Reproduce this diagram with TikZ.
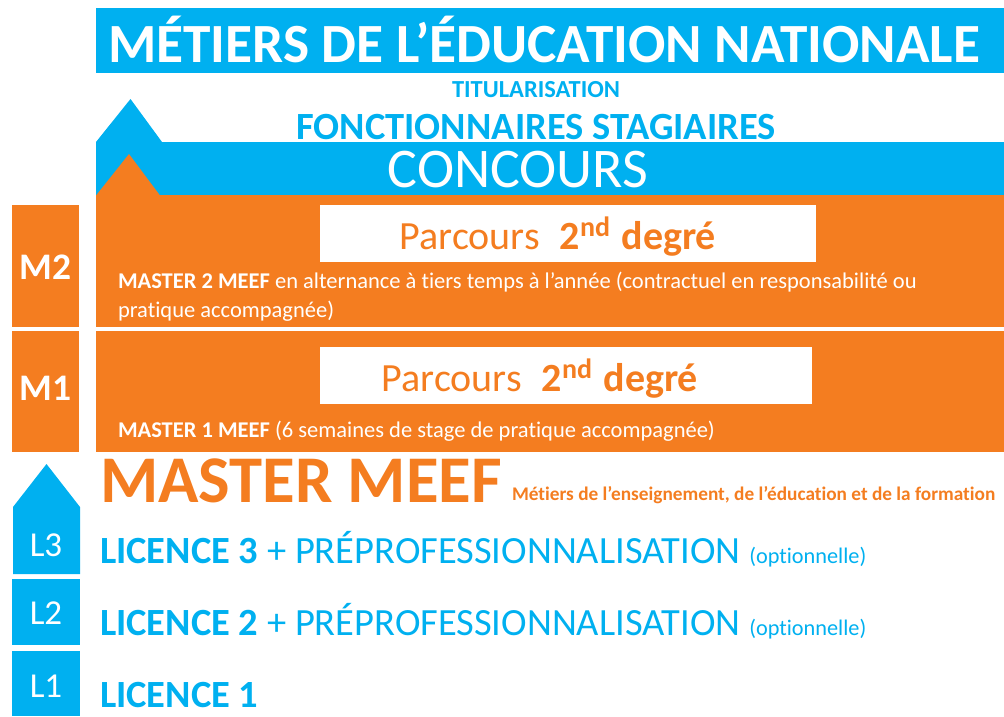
\documentclass[tikz,border=0pt]{standalone}
\usepackage{fontspec}
\setmainfont{Carlito}[Ligatures=NoCommon]
\definecolor{cblue}{RGB}{0,176,240}
\definecolor{corange}{RGB}{244,125,32}
\tikzset{
  lbl/.style={inner sep=0pt,outer sep=0pt},
}
\newcommand{\parcourstext}{Parcours\hspace{20pt}\textbf{2\raisebox{3pt}{\textsuperscript{nd}}\hspace{2pt} degré}}
\begin{document}
\begin{tikzpicture}[x=1pt,y=-1pt]
\useasboundingbox (0,0) rectangle (1004,716);
% top bar
\fill[cblue] (96,8) rectangle (1004,73);
\node[lbl,text=white,font=\fontsize{55.3}{55}\selectfont\bfseries,anchor=base] (title) at (544,62) {MÉTIERS DE L’ÉDUCATION NATIONALE};
\node[lbl,text=cblue,font=\fontsize{24.5}{24}\selectfont\bfseries,anchor=base] (titu) at (536,97) {TITULARISATION};
% blue arrow band
\fill[cblue] (96,142) -- (130.5,99) -- (162,142) -- (1004,142) -- (1004,195) -- (96,195) -- cycle;
\node[lbl,text=cblue,font=\fontsize{38.5}{38}\selectfont\bfseries,anchor=base] (fonc) at (536,139) {FONCTIONNAIRES STAGIAIRES};
\node[lbl,text=white,font=\fontsize{56}{56}\selectfont,anchor=base] (conc) at (518,187) {CONCOURS};
% orange arrow
\fill[corange] (96,195.5) -- (129,154) -- (160,195.5) -- cycle;
% M2
\fill[corange] (96,195) rectangle (1004,327);
\fill[corange] (12,205) rectangle (79,327);
\node[lbl,text=white,font=\fontsize{37.5}{37}\selectfont\bfseries] (m2) at (45.5,267) {M2};
\fill[white] (320,205) rectangle (816,262);
\node[lbl,text=corange,font=\fontsize{40}{40}\selectfont,anchor=base] (p2) at (558,249) {\parcourstext};
\node[lbl,text=white,font=\fontsize{22.5}{29}\selectfont,anchor=base west,align=left] (m2t) at (118,317) {\textbf{MASTER 2 MEEF} en alternance à tiers temps à l’année (contractuel en responsabilité ou\\pratique accompagnée)};
% M1
\fill[corange] (96,331) rectangle (1004,452);
\fill[corange] (12,331) rectangle (79,452);
\node[lbl,text=white,font=\fontsize{37.5}{37}\selectfont\bfseries] (m1) at (45.5,388) {M1};
\fill[white] (320,347) rectangle (812,404);
\node[lbl,text=corange,font=\fontsize{40}{40}\selectfont,anchor=base] (p1) at (540,391) {\parcourstext};
\node[lbl,text=white,font=\fontsize{22.5}{29}\selectfont,anchor=base west] (m1t) at (118,437) {\textbf{MASTER 1 MEEF} (6 semaines de stage de pratique accompagnée)};
% Master MEEF
\node[lbl,text=corange,font=\fontsize{66.7}{66}\selectfont\bfseries,anchor=base west] (mm) at (100,502) {MASTER MEEF};
\node[lbl,text=corange,font=\fontsize{19.3}{19}\selectfont\bfseries,anchor=base west] (mmt) at (512,500) {Métiers de l’enseignement, de l’éducation et de la formation};
% L boxes
\fill[cblue] (13,507) -- (46.5,464) -- (80,507) -- (80,574) -- (13,574) -- cycle;
\fill[cblue] (12,579) rectangle (80,645);
\fill[cblue] (12,651) rectangle (80,716);
\node[lbl,text=white,font=\fontsize{35}{35}\selectfont] (l3) at (46,545) {L3};
\node[lbl,text=white,font=\fontsize{35}{35}\selectfont] (l2) at (46,613) {L2};
\node[lbl,text=white,font=\fontsize{35}{35}\selectfont] (l1) at (46,686) {L1};
\node[lbl,text=cblue,font=\fontsize{38.5}{38}\selectfont,anchor=base west] (lic3) at (100,563) {\textbf{LICENCE 3} + PRÉPROFESSIONNALISATION \fontsize{22.3}{22}\selectfont(optionnelle)};
\node[lbl,text=cblue,font=\fontsize{38.5}{38}\selectfont,anchor=base west] (lic2) at (100,635) {\textbf{LICENCE 2} + PRÉPROFESSIONNALISATION \fontsize{22.3}{22}\selectfont(optionnelle)};
\node[lbl,text=cblue,font=\fontsize{38.5}{38}\selectfont\bfseries,anchor=base west] (lic1) at (100,707) {LICENCE 1};
\end{tikzpicture}
\end{document}
